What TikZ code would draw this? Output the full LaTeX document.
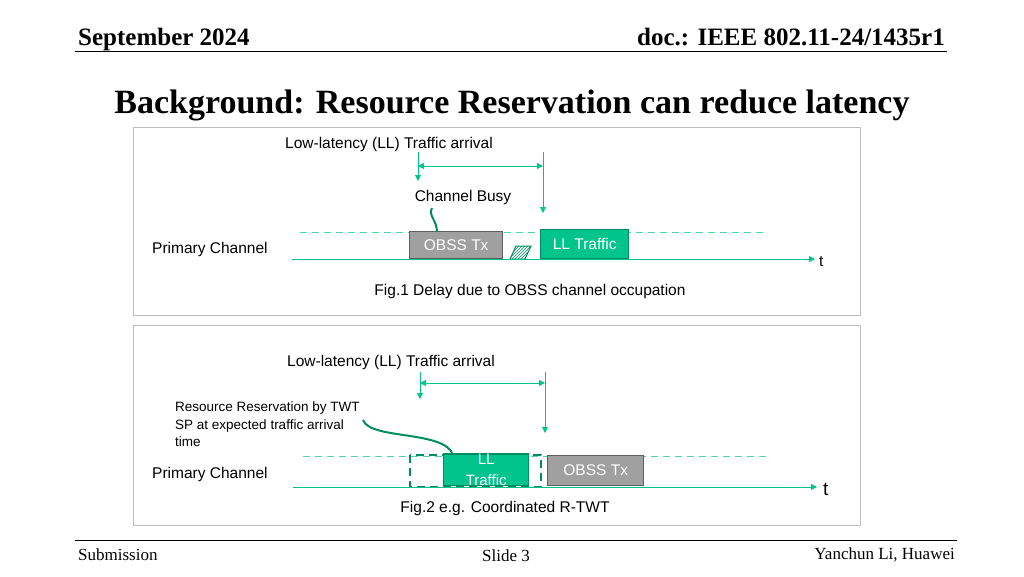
\documentclass[tikz,border=0pt]{standalone}
\usepackage{fontspec}
\setmainfont{Liberation Serif}
\setsansfont{Liberation Sans}
\usepackage{tikz}
\usetikzlibrary{arrows.meta,patterns}
\definecolor{llgreen}{RGB}{0,196,140}
\definecolor{lldark}{RGB}{0,140,95}
\definecolor{obssgray}{RGB}{160,160,160}
\definecolor{obssline}{RGB}{95,95,95}
\definecolor{panelgray}{RGB}{190,190,190}
\tikzset{
  txt/.style={font=\sffamily\fontsize{15.5}{18}\selectfont, inner sep=0pt},
  hdr/.style={font=\bfseries\fontsize{25}{28}\selectfont, inner sep=0pt},
  foot/.style={font=\fontsize{17}{20}\selectfont, inner sep=0pt},
  boxtxt/.style={font=\sffamily\fontsize{15.5}{22}\selectfont},
  arr/.style={llgreen, line width=0.9pt, -{Triangle[length=6pt,width=6pt]}},
  twoarr/.style={llgreen, line width=0.9pt, {Triangle[length=6pt,width=6pt]}-{Triangle[length=6pt,width=6pt]}},
  obss/.style={draw=obssline, fill=obssgray, line width=1.4pt, text=white},
  llbox/.style={draw=lldark, fill=llgreen, line width=1.4pt, text=white},
  slot/.style={llgreen!70, dashed, dash pattern=on 7pt off 5pt, line width=0.8pt}
}
\begin{document}
\begin{tikzpicture}[x=1pt,y=-1pt]
\useasboundingbox (0,0) rectangle (1024,576);
% header
\node[hdr, anchor=base west] (date) at (78,45) {September 2024};
\node[hdr, anchor=base east] (doc) at (945,45) {doc.: IEEE 802.11-24/1435r1};
\draw[line width=0.8pt] (75,51) -- (947,51);
\node[font=\bfseries\fontsize{34}{38}\selectfont, anchor=base] (title) at (512,113) {Background: Resource Reservation can reduce latency};

% Fig.1
\draw[panelgray, line width=1pt] (133,127) rectangle (860,315);
\node[txt, anchor=base west] (arr1) at (285,148) {Low-latency (LL) Traffic arrival};
\coordinate (a1) at (418,152); \coordinate (b1) at (543,152);
\draw[arr] (a1) -- (418,181);
\draw[arr] (b1) -- (543,213);
\draw[twoarr] (418,166) -- (543,166);
\node[txt, anchor=base] (busy) at (463,201) {Channel Busy};
\draw[slot] (300,232) -- (765,232);
\node[obss, boxtxt, minimum width=93pt, minimum height=27pt, anchor=south west] (obss1) at (409,259) {OBSS Tx};
\node[llbox, boxtxt, minimum width=88pt, minimum height=29pt, anchor=south west] (ll1) at (540,259) {LL Traffic};
\draw[lldark, line width=2pt] (432,208) .. controls (428,216) and (437,220) .. (437,232);
\draw[lldark, fill=llgreen!60, line width=1pt, pattern=north east lines, pattern color=lldark] (510,259) -- (516,246) -- (531,246) -- (525,259) -- cycle;
\node[txt, anchor=base west] (pc1) at (152,253) {Primary Channel};
\coordinate (s1) at (292,259);
\node[txt, anchor=west] (t1) at (819,262) {t};
\draw[arr, line width=1pt] (s1) -- (815,259);
\node[txt, anchor=base] (cap1) at (530,295) {Fig.1 Delay due to OBSS channel occupation};

% Fig.2
\draw[panelgray, line width=1pt] (133,325) rectangle (860,525);
\node[txt, anchor=base west] (arr2) at (287,366) {Low-latency (LL) Traffic arrival};
\coordinate (a2) at (420,372); \coordinate (b2) at (545,372);
\draw[arr] (a2) -- (420,399);
\draw[arr] (b2) -- (545,433);
\draw[twoarr] (420,383) -- (545,383);
\node[txt, anchor=north west, align=left, font=\sffamily\fontsize{13.5}{17.5}\selectfont] (rr) at (175,402) {Resource Reservation by TWT\\SP at expected traffic arrival\\time};
\draw[slot] (303,456) -- (767,456);
\draw[lldark, dashed, dash pattern=on 8pt off 5pt, line width=1.6pt] (410,455) rectangle (541,487);
\node[llbox, minimum width=85pt, minimum height=31pt, anchor=south west, align=center, inner sep=0pt, font=\sffamily\fontsize{15}{21}\selectfont] (ll2) at (443,486) {LL\\Traffic};
\node[obss, boxtxt, minimum width=96pt, minimum height=30pt, anchor=south west] (obss2) at (547,486) {OBSS Tx};
\draw[lldark, line width=2pt] (363,420) .. controls (370,440) and (445,430) .. (453,455);
\node[txt, anchor=base west] (pc2) at (152,478) {Primary Channel};
\coordinate (s2) at (293,487);
\node[txt, anchor=west, font=\sffamily\fontsize{19}{21}\selectfont] (t2) at (823,489) {t};
\draw[arr, line width=1pt] (s2) -- (817,487);
\node[txt, anchor=base] (cap2) at (505,512) {Fig.2 e.g. Coordinated R-TWT};

% footer
\draw[line width=0.8pt] (75,540) -- (957,540);
\node[foot, anchor=base west] (sub) at (78,560) {Submission};
\node[foot, anchor=base] (slide) at (506,561) {Slide 3};
\node[foot, anchor=base east] (auth) at (955,559) {Yanchun Li, Huawei};
\end{tikzpicture}
\end{document}
